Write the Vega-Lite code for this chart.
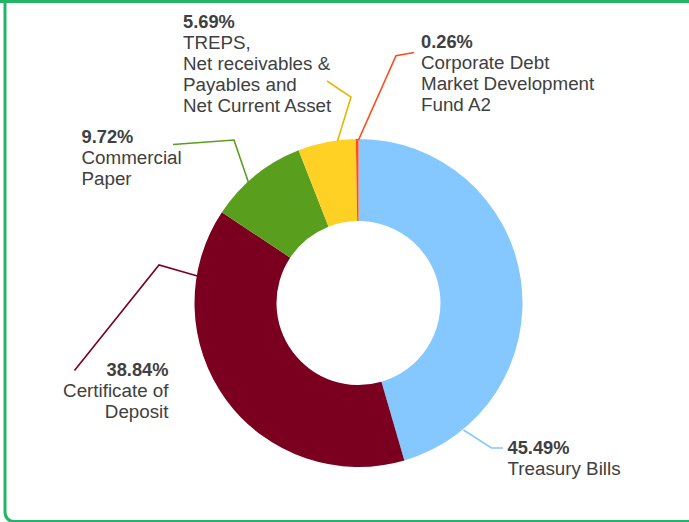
{
  "$schema": "https://vega.github.io/schema/vega-lite/v6.json",
  "width": 689,
  "height": 522,
  "padding": 0,
  "autosize": {"type": "none"},
  "background": "white",
  "config": {"view": {"stroke": null}, "font": "Liberation Sans"},
  "datasets": {
    "segments": [
      {"category": "Treasury Bills", "value": 45.49, "ord": 1, "pct": "45.49%", "name": "Treasury Bills", "lx": 149, "ly": -151.3, "side": "left"},
      {"category": "Certificate of Deposit", "value": 38.84, "ord": 2, "pct": "38.84%", "name": "Certificate of\nDeposit", "lx": -190, "ly": -73, "side": "right"},
      {"category": "Commercial Paper", "value": 9.72, "ord": 3, "pct": "9.72%", "name": "Commercial\nPaper", "lx": -277, "ly": 160.3, "side": "left"},
      {"category": "TREPS", "value": 5.69, "ord": 4, "pct": "5.69%", "name": "TREPS,\nNet receivables &\nPayables and\nNet Current Asset", "lx": -175.5, "ly": 274.7, "side": "left"},
      {"category": "Corporate Debt", "value": 0.26, "ord": 5, "pct": "0.26%", "name": "Corporate Debt\nMarket Development\nFund A2", "lx": 62.5, "ly": 254.7, "side": "left"}
    ],
    "leaders": [
      {"category": "Treasury Bills", "step": 1, "px": 105, "py": -127},
      {"category": "Treasury Bills", "step": 2, "px": 133, "py": -145},
      {"category": "Treasury Bills", "step": 3, "px": 144.5, "py": -145},
      {"category": "Certificate of Deposit", "step": 1, "px": -161, "py": 27},
      {"category": "Certificate of Deposit", "step": 2, "px": -199.5, "py": 38},
      {"category": "Certificate of Deposit", "step": 3, "px": -284, "py": -67.5},
      {"category": "Commercial Paper", "step": 1, "px": -110, "py": 120.5},
      {"category": "Commercial Paper", "step": 2, "px": -124.5, "py": 163},
      {"category": "Commercial Paper", "step": 3, "px": -185.5, "py": 158.5},
      {"category": "TREPS", "step": 1, "px": -21, "py": 162},
      {"category": "TREPS", "step": 2, "px": -7.5, "py": 206},
      {"category": "TREPS", "step": 3, "px": -31.5, "py": 222},
      {"category": "Corporate Debt", "step": 1, "px": 0, "py": 163},
      {"category": "Corporate Debt", "step": 2, "px": 37.5, "py": 247.3},
      {"category": "Corporate Debt", "step": 3, "px": 55.5, "py": 250.5}
    ]
  },
  "resolve": {"scale": {"color": "independent"}},
  "layer": [
    {
      "data": {"values": [{}]},
      "mark": {"type": "rect", "fill": null, "stroke": "#22B566", "strokeWidth": 3, "cornerRadius": 9},
      "encoding": {
        "x": {"datum": -353.5, "type": "quantitative", "scale": {"domain": [-358.5, 330.5], "nice": false, "zero": false}, "axis": null},
        "x2": {"datum": 380},
        "y": {"datum": 340, "type": "quantitative", "scale": {"domain": [-219, 303], "nice": false, "zero": false}, "axis": null},
        "y2": {"datum": -218.5}
      }
    },
    {
      "data": {"values": [{}]},
      "mark": {"type": "rule", "stroke": "#22B566", "strokeWidth": 3},
      "encoding": {
        "y": {"datum": 301.5, "type": "quantitative", "scale": {"domain": [-219, 303], "nice": false, "zero": false}, "axis": null}
      }
    },
    {
      "data": {"name": "segments"},
      "mark": {"type": "arc", "outerRadius": 164, "innerRadius": 82},
      "encoding": {
        "x": {"datum": 0, "type": "quantitative", "scale": {"domain": [-358.5, 330.5], "nice": false, "zero": false}, "axis": null},
        "y": {"datum": 0, "type": "quantitative", "scale": {"domain": [-219, 303], "nice": false, "zero": false}, "axis": null},
        "theta": {"field": "value", "type": "quantitative", "stack": true},
        "order": {"field": "ord", "type": "quantitative"},
        "color": {
          "field": "category", "type": "nominal", "legend": null,
          "scale": {
            "domain": ["Treasury Bills", "Certificate of Deposit", "Commercial Paper", "TREPS", "Corporate Debt"],
            "range": ["#85C8FF", "#7B0020", "#5A9E1E", "#FFD124", "#FF4B19"]
          }
        }
      }
    },
    {
      "data": {"name": "leaders"},
      "mark": {"type": "line", "strokeWidth": 1.6},
      "encoding": {
        "x": {"field": "px", "type": "quantitative", "scale": {"domain": [-358.5, 330.5], "nice": false, "zero": false}, "axis": null},
        "y": {"field": "py", "type": "quantitative", "scale": {"domain": [-219, 303], "nice": false, "zero": false}, "axis": null},
        "order": {"field": "step", "type": "quantitative"},
        "color": {
          "field": "category", "type": "nominal", "legend": null,
          "scale": {
            "domain": ["Treasury Bills", "Certificate of Deposit", "Commercial Paper", "TREPS", "Corporate Debt"],
            "range": ["#85C8FF", "#7B0020", "#5A9E1E", "#E6B800", "#FF4B19"]
          }
        }
      }
    },
    {
      "data": {"name": "segments"},
      "transform": [{"filter": "datum.side == 'left'"}],
      "mark": {"type": "text", "align": "left", "baseline": "alphabetic", "fontSize": 18.3, "fontWeight": "bold", "color": "#404040"},
      "encoding": {
        "x": {"field": "lx", "type": "quantitative", "scale": {"domain": [-358.5, 330.5], "nice": false, "zero": false}, "axis": null},
        "y": {"field": "ly", "type": "quantitative", "scale": {"domain": [-219, 303], "nice": false, "zero": false}, "axis": null},
        "text": {"field": "pct"}
      }
    },
    {
      "data": {"name": "segments"},
      "transform": [{"filter": "datum.side == 'left'"}],
      "mark": {"type": "text", "align": "left", "baseline": "alphabetic", "fontSize": 18.8, "dy": 21, "lineBreak": "\n", "lineHeight": 21, "color": "#404040"},
      "encoding": {
        "x": {"field": "lx", "type": "quantitative", "scale": {"domain": [-358.5, 330.5], "nice": false, "zero": false}, "axis": null},
        "y": {"field": "ly", "type": "quantitative", "scale": {"domain": [-219, 303], "nice": false, "zero": false}, "axis": null},
        "text": {"field": "name"}
      }
    },
    {
      "data": {"name": "segments"},
      "transform": [{"filter": "datum.side == 'right'"}],
      "mark": {"type": "text", "align": "right", "baseline": "alphabetic", "fontSize": 18.3, "fontWeight": "bold", "color": "#404040"},
      "encoding": {
        "x": {"field": "lx", "type": "quantitative", "scale": {"domain": [-358.5, 330.5], "nice": false, "zero": false}, "axis": null},
        "y": {"field": "ly", "type": "quantitative", "scale": {"domain": [-219, 303], "nice": false, "zero": false}, "axis": null},
        "text": {"field": "pct"}
      }
    },
    {
      "data": {"name": "segments"},
      "transform": [{"filter": "datum.side == 'right'"}],
      "mark": {"type": "text", "align": "right", "baseline": "alphabetic", "fontSize": 18.8, "dy": 21, "lineBreak": "\n", "lineHeight": 21, "color": "#404040"},
      "encoding": {
        "x": {"field": "lx", "type": "quantitative", "scale": {"domain": [-358.5, 330.5], "nice": false, "zero": false}, "axis": null},
        "y": {"field": "ly", "type": "quantitative", "scale": {"domain": [-219, 303], "nice": false, "zero": false}, "axis": null},
        "text": {"field": "name"}
      }
    }
  ]
}
